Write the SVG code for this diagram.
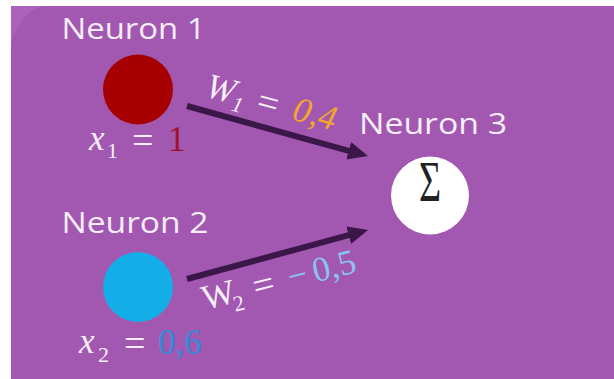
<svg xmlns="http://www.w3.org/2000/svg" width="614" height="379" viewBox="0 0 614 379">
<style>
.lbl{font-family:"Open Sans","Liberation Sans",sans-serif;font-size:30px;fill:#F6EEF8}
.m{font-family:"Liberation Serif","DejaVu Serif",serif;font-size:35px;fill:#F6EEF8}
.it{font-style:italic}
.sub{font-size:22px}
.eq{font-size:38px}
.conn{stroke:#3B1648;stroke-width:6;fill:none;marker-end:url(#ah)}
</style>
<defs>
<marker id="ah" viewBox="0 0 20 20" refX="2" refY="10" markerWidth="20" markerHeight="20" markerUnits="userSpaceOnUse" orient="auto">
<path d="M0,1 L20,10 L0,19 Z" fill="#3B1648"/>
</marker>
</defs>
<rect x="0" y="0" width="614" height="379" fill="#FFFFFF"/>
<rect x="11" y="6" width="603" height="373" fill="#A257B1"/>
<path d="M11,6 H42 Q17,15 11,46 Z" fill="#AA62BA"/>

<g id="connectors">
<line class="conn" x1="187" y1="106" x2="350.6" y2="151.3"/>
<line class="conn" x1="187" y1="279" x2="350.6" y2="234.7"/>
<g id="w1-label" transform="translate(204,96) rotate(15)">
<text class="m it" x="0" y="0">W</text>
<text class="m it sub" x="29" y="7">1</text>
<text class="m eq" x="53" y="2">=</text>
<text class="m it" x="90" y="0" style="fill:#F2A72A">0,4</text>
</g>
<g id="w2-label" transform="translate(205,310) rotate(-14)">
<text class="m" x="0" y="0">W</text>
<text class="m sub" x="29" y="9">2</text>
<text class="m eq" x="52" y="2">=</text>
<text class="m" x="88" y="0" style="fill:#8CC3EE">−</text>
<text class="m" x="114" y="0" style="fill:#8CC3EE">0,5</text>
</g>
</g>

<g id="neuron1">
<text class="lbl" x="61.5" y="39" textLength="144" lengthAdjust="spacingAndGlyphs">Neuron 1</text>
<circle cx="138" cy="89.5" r="35" fill="#A60000"/>
<text class="m it" x="89" y="150">x</text>
<text class="m sub" x="107" y="158">1</text>
<text class="m eq" x="132" y="153">=</text>
<text class="m" x="168" y="151" style="fill:#A3102B">1</text>
</g>

<g id="neuron2">
<text class="lbl" x="61.5" y="233" textLength="147" lengthAdjust="spacingAndGlyphs">Neuron 2</text>
<circle cx="138" cy="287" r="35" fill="#13AEE8"/>
<text class="m it" x="79" y="353">x</text>
<text class="m sub" x="98" y="362">2</text>
<text class="m eq" x="124" y="356">=</text>
<text class="m" x="158" y="354" style="fill:#2E8CD9">0,6</text>
</g>

<g id="neuron3">
<text class="lbl" x="359" y="134" textLength="148" lengthAdjust="spacingAndGlyphs">Neuron 3</text>
<circle cx="430" cy="195.5" r="39" fill="#FFFFFF"/>
<text x="0" y="0" transform="translate(430,201) scale(0.95,1.4)" text-anchor="middle" font-family="Liberation Serif, DejaVu Serif, serif" font-size="40" fill="#222222">Σ</text>
</g>
</svg>
